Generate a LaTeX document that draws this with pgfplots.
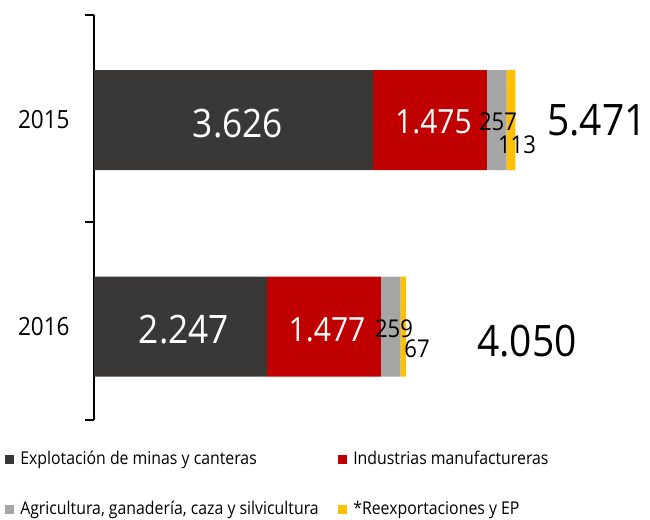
\documentclass[border=0pt]{standalone}
\usepackage{fontspec}
\setmainfont[FakeStretch=0.9]{Open Sans}
\usepackage{pgfplots}
\pgfplotsset{compat=1.18}
\definecolor{minas}{HTML}{3A3836}
\definecolor{manuf}{HTML}{C00000}
\definecolor{agri}{HTML}{A6A6A6}
\definecolor{reexp}{HTML}{FFC000}

\begin{document}
\begin{tikzpicture}
\path[use as bounding box] (0,0) rectangle (487.5pt,389.25pt);
\begin{axis}[
    at={(70.5pt,74.25pt)}, anchor=south west,
    scale only axis,
    width=404.25pt, height=303.75pt,
    xbar stacked,
    bar width=75pt,
    xmin=0, xmax=7000,
    ymin=-0.4528, ymax=1.5085,
    hide x axis,
    axis y line*=left,
    y axis line style={-, line width=2.2pt},
    ytick={-0.4528,0.506,1.5085},
    yticklabels={},
    tick align=outside,
    major tick length=6.75pt,
    y tick style={black, line width=2pt},
    extra y ticks={0,1},
    extra y tick labels={2016,2015},
    extra y tick style={
        y tick style={draw=none},
        yticklabel style={font=\fontsize{18.8}{20}\selectfont, xshift=-8pt}
    },
    clip=false,
    legend columns=2,
    legend style={
        at={(rel axis cs:-0.1651,-0.0758)}, anchor=north west,
        draw=none, fill=none, inner sep=0pt,
        row sep=24.5pt,
        nodes={inner sep=0pt, text height=10pt, text depth=3pt,
               font=\fontsize{13.2}{15}\selectfont},
        /tikz/every even column/.append style={column sep=0pt}
    },
    legend cell align=left,
    legend image code/.code={
        \fill[#1] (0pt,-3.4pt) rectangle (6.75pt,3.4pt);
        \path (11.25pt,0pt);
    },
]
\addplot[fill=minas, draw=none] coordinates {(3626,1) (2247,0)};
\addlegendentry{\makebox[238.5pt][l]{Explotación de minas y canteras}}
\addplot[fill=manuf, draw=none] coordinates {(1475,1) (1477,0)};
\addlegendentry{Industrias manufactureras}
\addplot[fill=agri, draw=none] coordinates {(257,1) (259,0)};
\addlegendentry{\makebox[238.5pt][l]{Agricultura, ganadería, caza y silvicultura}}
\addplot[fill=reexp, draw=none] coordinates {(113,1) (67,0)};
\addlegendentry{*Reexportaciones y EP}

% posiciones de las etiquetas
\coordinate (a1) at (axis cs:1870,0.985);
\coordinate (a2) at (axis cs:4409,0.990);
\coordinate (a3) at (axis cs:5247,0.990);
\coordinate (a4) at (axis cs:5494,0.879);
\coordinate (a5) at (axis cs:6532,1.0);
\coordinate (b1) at (axis cs:1169,-0.017);
\coordinate (b2) at (axis cs:3026,-0.017);
\coordinate (b3) at (axis cs:3896,-0.012);
\coordinate (b4) at (axis cs:4195,-0.109);
\coordinate (b5) at (axis cs:5623,-0.070);
\end{axis}
\node[white, font=\fontsize{29.4}{30}\selectfont] at (a1) {3.626};
\node[white, font=\fontsize{25}{26}\selectfont] at (a2) {1.475};
\node[font=\fontsize{18.4}{19}\selectfont] at (a3) {257};
\node[font=\fontsize{18.4}{19}\selectfont] at (a4) {113};
\node[font=\fontsize{32.5}{33}\selectfont] at (a5) {5.471};
\node[white, font=\fontsize{29.4}{30}\selectfont] at (b1) {2.247};
\node[white, font=\fontsize{25}{26}\selectfont] at (b2) {1.477};
\node[font=\fontsize{18.4}{19}\selectfont] at (b3) {259};
\node[font=\fontsize{18.4}{19}\selectfont] at (b4) {67};
\node[font=\fontsize{32.5}{33}\selectfont] at (b5) {4.050};
\end{tikzpicture}
\end{document}
